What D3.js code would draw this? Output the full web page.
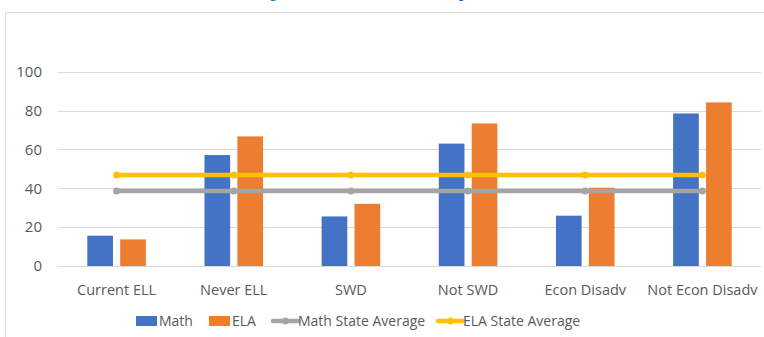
<!DOCTYPE html>
<html>
<head>
<meta charset="utf-8">
<script src="https://cdn.jsdelivr.net/npm/d3@7"></script>
<style>
  html, body { margin: 0; padding: 0; background: #fff; }
  svg { display: block; }
  text { font-family: "Open Sans", "Liberation Sans", sans-serif; }
</style>
</head>
<body>
<svg id="chart" width="764" height="337"></svg>
<script>
// Proficiency rates by student group
const categories = ["Current ELL", "Never ELL", "SWD", "Not SWD", "Econ Disadv", "Not Econ Disadv"];
const mathValues = [15.6, 57.1, 25.5, 63.0, 25.9, 78.5];
const elaValues = [13.7, 66.7, 32.0, 73.4, 40.3, 84.2];
const mathStateAverage = [38.6, 38.6, 38.6, 38.6, 38.6, 38.6];
const elaStateAverage = [46.8, 46.8, 46.8, 46.8, 46.8, 46.8];
const yTicks = [0, 20, 40, 60, 80, 100];
const titleText = "Performance by Student Groups, All Grades, 2019 (Percent Proficient)";

const colors = {
  Math: "#4472C4",
  ELA: "#ED7D31",
  "Math State Average": "#A5A5A5",
  "ELA State Average": "#FFC000"
};

const svg = d3.select("#chart");

// Chart frame
svg.append("rect")
  .attr("x", 5.5).attr("y", 12.5)
  .attr("width", 900).attr("height", 400)
  .attr("fill", "#fff")
  .attr("stroke", "#d9d9d9");

// Title (runs above the top edge of the page)
const title = svg.append("text")
  .attr("x", 0).attr("y", -5)
  .attr("font-weight", "bold")
  .attr("font-size", 22)
  .attr("fill", "#0F6FC6")
  .text(titleText);
{
  const node = title.node();
  const iy = titleText.indexOf("y");
  const ip = titleText.indexOf("(");
  const span = node.getStartPositionOfChar(ip).x - node.getStartPositionOfChar(iy).x;
  const fs = 22 * (433 / span);
  title.attr("font-size", fs);
  const sx = node.getStartPositionOfChar(iy).x;
  title.attr("x", 270 - sx);
}

const plot = { left: 58, right: 761, top: 71.7, bottom: 266 };

const x0 = d3.scaleBand()
  .domain(categories)
  .range([plot.left, plot.right])
  .padding(0);

const seriesNames = ["Math", "ELA"];
const bw = x0.bandwidth();
const x1 = d3.scaleBand()
  .domain(seriesNames)
  .range([bw * 0.25, bw * 0.75])
  .paddingInner(0.22);

const y = d3.scaleLinear()
  .domain([0, 100])
  .range([plot.bottom, plot.top]);

// Gridlines
svg.append("g")
  .selectAll("line")
  .data(yTicks)
  .join("line")
  .attr("x1", plot.left).attr("x2", plot.right)
  .attr("y1", d => Math.round(y(d)) + 0.5)
  .attr("y2", d => Math.round(y(d)) + 0.5)
  .attr("stroke", "#d9d9d9")
  .attr("stroke-width", 1);

// Y axis labels
const yAxis = d3.axisLeft(y).tickValues(yTicks).tickSize(0).tickPadding(0);
const gy = svg.append("g")
  .attr("transform", `translate(42,0)`)
  .call(yAxis);
gy.select(".domain").remove();
gy.selectAll("text")
  .attr("font-size", 15)
  .attr("fill", "#595959")
  .attr("font-family", "Open Sans, sans-serif");

// X axis labels
const xAxis = d3.axisBottom(x0).tickSize(0).tickPadding(0);
const gx = svg.append("g")
  .attr("transform", `translate(0,${plot.bottom + 19})`)
  .call(xAxis);
gx.select(".domain").remove();
gx.selectAll("text")
  .attr("font-size", 14.5)
  .attr("fill", "#595959")
  .attr("font-family", "Open Sans, sans-serif");

// Bars
const rows = categories.map((c, i) => ({ cat: c, Math: mathValues[i], ELA: elaValues[i] }));
svg.append("g")
  .selectAll("g")
  .data(rows)
  .join("g")
  .attr("transform", d => `translate(${x0(d.cat)},0)`)
  .selectAll("rect")
  .data(d => seriesNames.map(s => ({ s, v: d[s] })))
  .join("rect")
  .attr("x", d => x1(d.s))
  .attr("width", x1.bandwidth())
  .attr("y", d => y(d.v))
  .attr("height", d => y(0) - y(d.v))
  .attr("fill", d => colors[d.s]);

// State average lines
const cx = c => x0(c) + bw / 2;
const lineGen = d3.line().x(d => cx(d.cat)).y(d => y(d.v));
const lineSeries = [
  { name: "Math State Average", values: mathStateAverage },
  { name: "ELA State Average", values: elaStateAverage }
];
lineSeries.forEach(ls => {
  const pts = categories.map((c, i) => ({ cat: c, v: ls.values[i] }));
  svg.append("path")
    .datum(pts)
    .attr("d", lineGen)
    .attr("fill", "none")
    .attr("stroke", colors[ls.name])
    .attr("stroke-width", 4.5)
    .attr("stroke-linecap", "round");
  svg.append("g")
    .selectAll("circle")
    .data(pts)
    .join("circle")
    .attr("cx", d => cx(d.cat))
    .attr("cy", d => y(d.v))
    .attr("r", 3.5)
    .attr("fill", colors[ls.name]);
});

// Legend
const legendY = 321;
const legendItems = [
  { name: "Math", type: "bar", x: 136 },
  { name: "ELA", type: "bar", x: 209 },
  { name: "Math State Average", type: "line", x: 273 },
  { name: "ELA State Average", type: "line", x: 438 }
];
const lg = svg.append("g");
legendItems.forEach(it => {
  if (it.type === "bar") {
    lg.append("rect")
      .attr("x", it.x).attr("y", legendY - 5)
      .attr("width", 21).attr("height", 10)
      .attr("fill", colors[it.name]);
  } else {
    lg.append("line")
      .attr("x1", it.x).attr("x2", it.x + 25)
      .attr("y1", legendY).attr("y2", legendY)
      .attr("stroke", colors[it.name])
      .attr("stroke-width", 4.5)
      .attr("stroke-linecap", "round");
    lg.append("circle")
      .attr("cx", it.x + 12.5).attr("cy", legendY)
      .attr("r", 3.5)
      .attr("fill", colors[it.name]);
  }
  lg.append("text")
    .attr("x", it.x + (it.type === "bar" ? 23 : 25))
    .attr("y", legendY)
    .attr("dy", "0.35em")
    .attr("font-size", 14)
    .attr("fill", "#595959")
    .text(it.name);
});
</script>
</body>
</html>
